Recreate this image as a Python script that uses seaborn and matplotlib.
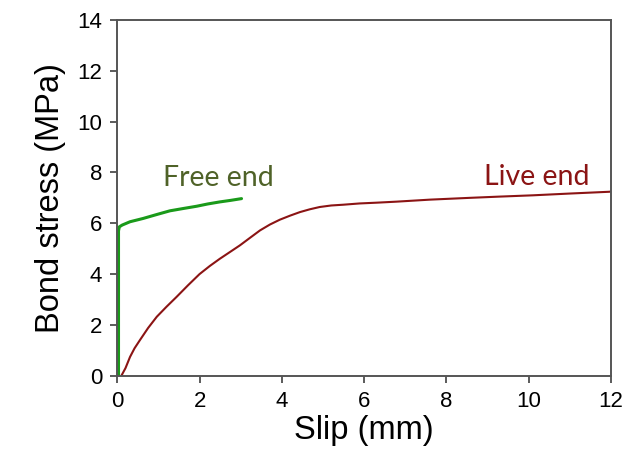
import matplotlib
matplotlib.use("Agg")
import matplotlib.pyplot as plt
import seaborn as sns
import pandas as pd

# Bond stress-slip response measured at the two ends of the specimen
live_slip = [0.1, 0.2, 0.31, 0.42, 0.55, 0.75, 0.96, 1.2, 1.44, 1.72, 2.0, 2.25,
             2.49, 2.74, 2.98, 3.22, 3.47, 3.71, 3.95, 4.2, 4.44, 4.68, 4.92,
             5.2, 5.49, 5.89, 6.3, 6.78, 7.6, 8.56, 9.3, 10.1, 11.0, 11.96, 12.0]
live_stress = [0.0, 0.3, 0.74, 1.08, 1.4, 1.88, 2.32, 2.72, 3.1, 3.56, 4.0, 4.32,
               4.6, 4.87, 5.13, 5.42, 5.72, 5.95, 6.14, 6.3, 6.44, 6.55, 6.64,
               6.7, 6.73, 6.78, 6.81, 6.85, 6.93, 7.0, 7.05, 7.1, 7.17, 7.24, 7.25]

free_slip = [0.03, 0.03, 0.03, 0.05, 0.12, 0.31, 0.63, 0.95, 1.28, 1.6, 1.93,
             2.2, 2.49, 2.75, 3.02]
free_stress = [0.0, 2.0, 5.7, 5.86, 5.93, 6.06, 6.19, 6.34, 6.49, 6.58, 6.67,
               6.76, 6.84, 6.9, 6.97]

x_ticks = [0, 2, 4, 6, 8, 10, 12]
y_ticks = [0, 2, 4, 6, 8, 10, 12, 14]

live = pd.DataFrame({"slip": live_slip, "stress": live_stress})
free = pd.DataFrame({"slip": free_slip, "stress": free_stress})

sns.set_style("white")
plt.rcParams["font.family"] = ["Liberation Sans", "DejaVu Sans"]
plt.rcParams["text.color"] = "black"
plt.rcParams["axes.labelcolor"] = "black"

fig = plt.figure(figsize=(6.36, 4.57), dpi=100)
ax = fig.add_axes([0.1844, 0.1779, 0.7763, 0.7783])

sns.lineplot(data=live, x="slip", y="stress", sort=False, estimator=None,
             color="#8b1414", linewidth=1.5, ax=ax)
sns.lineplot(data=free, x="slip", y="stress", sort=False, estimator=None,
             color="#1a9a1a", linewidth=2.2, ax=ax)

ax.set_xlim(0, 12)
ax.set_ylim(0, 14)
ax.set_xticks(x_ticks)
ax.set_yticks(y_ticks)
ax.tick_params(axis="both", which="major", direction="out", length=5, width=1.2,
               color="#404040", labelsize=16, labelcolor="black", pad=6,
               bottom=True, left=True)
ax.set_xlabel("Slip (mm)", fontsize=23.5, labelpad=2, color="black")
ax.set_ylabel("Bond stress (MPa)", fontsize=23.5, labelpad=8, color="black")

for side in ["left", "bottom", "right", "top"]:
    ax.spines[side].set_visible(True)
    ax.spines[side].set_color("#555555")
    ax.spines[side].set_linewidth(1.4)

ax.text(1.11, 7.45, "Free end", fontsize=20.5, color="#4f6228",
        family=["Lato", "DejaVu Sans"], ha="left", va="baseline")
ax.text(8.92, 7.52, "Live end", fontsize=20.5, color="#8b1414",
        family=["Lato", "DejaVu Sans"], ha="left", va="baseline")

fig.savefig("out.png", dpi=100)
